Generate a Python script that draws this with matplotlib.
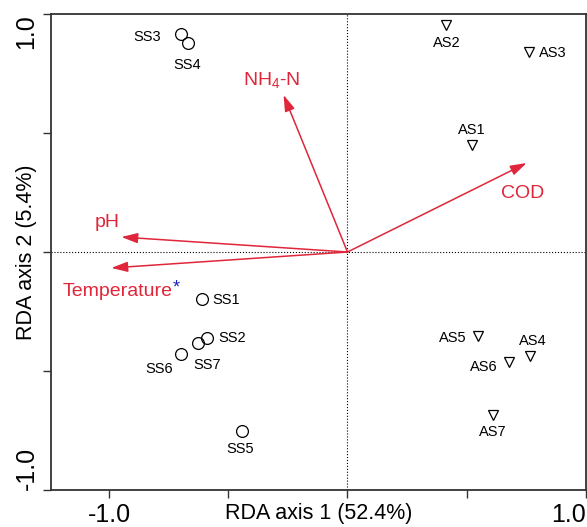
import numpy as np
import matplotlib.pyplot as plt

plt.rcParams['font.family'] = ['Liberation Sans', 'DejaVu Sans']
plt.rcParams['mathtext.default'] = 'regular'

# site scores (RDA axis 1, RDA axis 2)
ss_names = ['SS1', 'SS2', 'SS3', 'SS4', 'SS5', 'SS6', 'SS7']
ss_x = [-0.608, -0.587, -0.696, -0.667, -0.444, -0.696, -0.625]
ss_y = [-0.197, -0.361, 0.916, 0.878, -0.752, -0.429, -0.382]

as_names = ['AS1', 'AS2', 'AS3', 'AS4', 'AS5', 'AS6', 'AS7']
as_x = [0.520, 0.415, 0.759, 0.767, 0.549, 0.679, 0.608]
as_y = [0.450, 0.954, 0.840, -0.437, -0.353, -0.462, -0.685]

# environmental vectors
env_names = ['NH$_4$-N', 'pH', 'Temperature', 'COD']
env_x = [-0.268, -0.948, -0.990, 0.751]
env_y = [0.660, 0.063, -0.067, 0.374]

# label offsets in pixels
ss_off = {'SS1': (24, -1), 'SS2': (25, 0), 'SS3': (-34, -3), 'SS4': (-1, -22),
          'SS5': (-1, -18), 'SS6': (-22, -15), 'SS7': (9, -22)}
as_off = {'AS1': (0, 15), 'AS2': (0, -18), 'AS3': (24, -1), 'AS4': (2, 15),
          'AS5': (-26, -2), 'AS6': (-26, -5), 'AS7': (0, -17)}
env_off = [(-12, 15), (-14, 15), (61, -24), (-4, -30)]

red = '#e0263a'

fig = plt.figure(figsize=(5.87, 5.27), dpi=100)
ax = fig.add_axes([0.0869, 0.0702, 0.9114, 0.9032])
ax.set_xlim(-1.243, 1.0)
ax.set_ylim(-1.0, 1.0)

ax.axhline(0, color='black', ls=':', lw=0.8)
ax.axvline(0, color='black', ls=':', lw=0.8)

ax.plot(ss_x, ss_y, 'o', mfc='none', mec='black', ms=8.5, mew=0.9)
ax.plot(as_x, as_y, 'v', mfc='none', mec='black', ms=7.5, mew=0.9)

for n, x, y in zip(ss_names, ss_x, ss_y):
    ax.annotate(n, (x, y), xytext=ss_off[n], textcoords='offset pixels',
                ha='center', va='center', fontsize=10.5)
for n, x, y in zip(as_names, as_x, as_y):
    ax.annotate(n, (x, y), xytext=as_off[n], textcoords='offset pixels',
                ha='center', va='center', fontsize=10.5)

for i, (n, x, y) in enumerate(zip(env_names, env_x, env_y)):
    ax.annotate('', xy=(x, y), xytext=(0, 0),
                arrowprops=dict(arrowstyle='-|>,head_length=0.7,head_width=0.22',
                                color=red, lw=1.1, shrinkA=0, shrinkB=0,
                                mutation_scale=14))
    ha = 'right' if n == 'Temperature' else 'center'
    ax.annotate(n, (x, y), xytext=env_off[i], textcoords='offset pixels',
                ha=ha, va='center', fontsize=14, color=red)
    if n == 'Temperature':
        ax.annotate('*', (x, y), xytext=(61, -20), textcoords='offset pixels',
                    ha='left', va='center', fontsize=13, color='#2020c0')

ax.set_xticks([-1.0, -0.5, 0, 0.5, 1.0])
ax.set_xticklabels(['-1.0', '', '', '', '1.0'], fontsize=18)
ax.set_yticks([-1.0, -0.5, 0, 0.5, 1.0])
ax.set_yticklabels(['-1.0', '', '', '', '1.0'], fontsize=18, rotation=90)
ax.tick_params(direction='out', length=6, width=1, pad=3, color='#333333')
xl = ax.get_xticklabels()
xl[-1].set_ha('right')
yl = ax.get_yticklabels()
yl[0].set_va('bottom')
yl[-1].set_va('top')

ax.set_xlabel('RDA axis 1 (52.4%)', fontsize=15.5)
ax.xaxis.set_label_coords(0.5, -0.027)
ax.set_ylabel('RDA axis 2 (5.4%)', fontsize=15.5)
ax.yaxis.set_label_coords(-0.026, 0.5)

for s in ax.spines.values():
    s.set_color('#333333')
    s.set_linewidth(1.3)

fig.savefig('out.png', dpi=100)
